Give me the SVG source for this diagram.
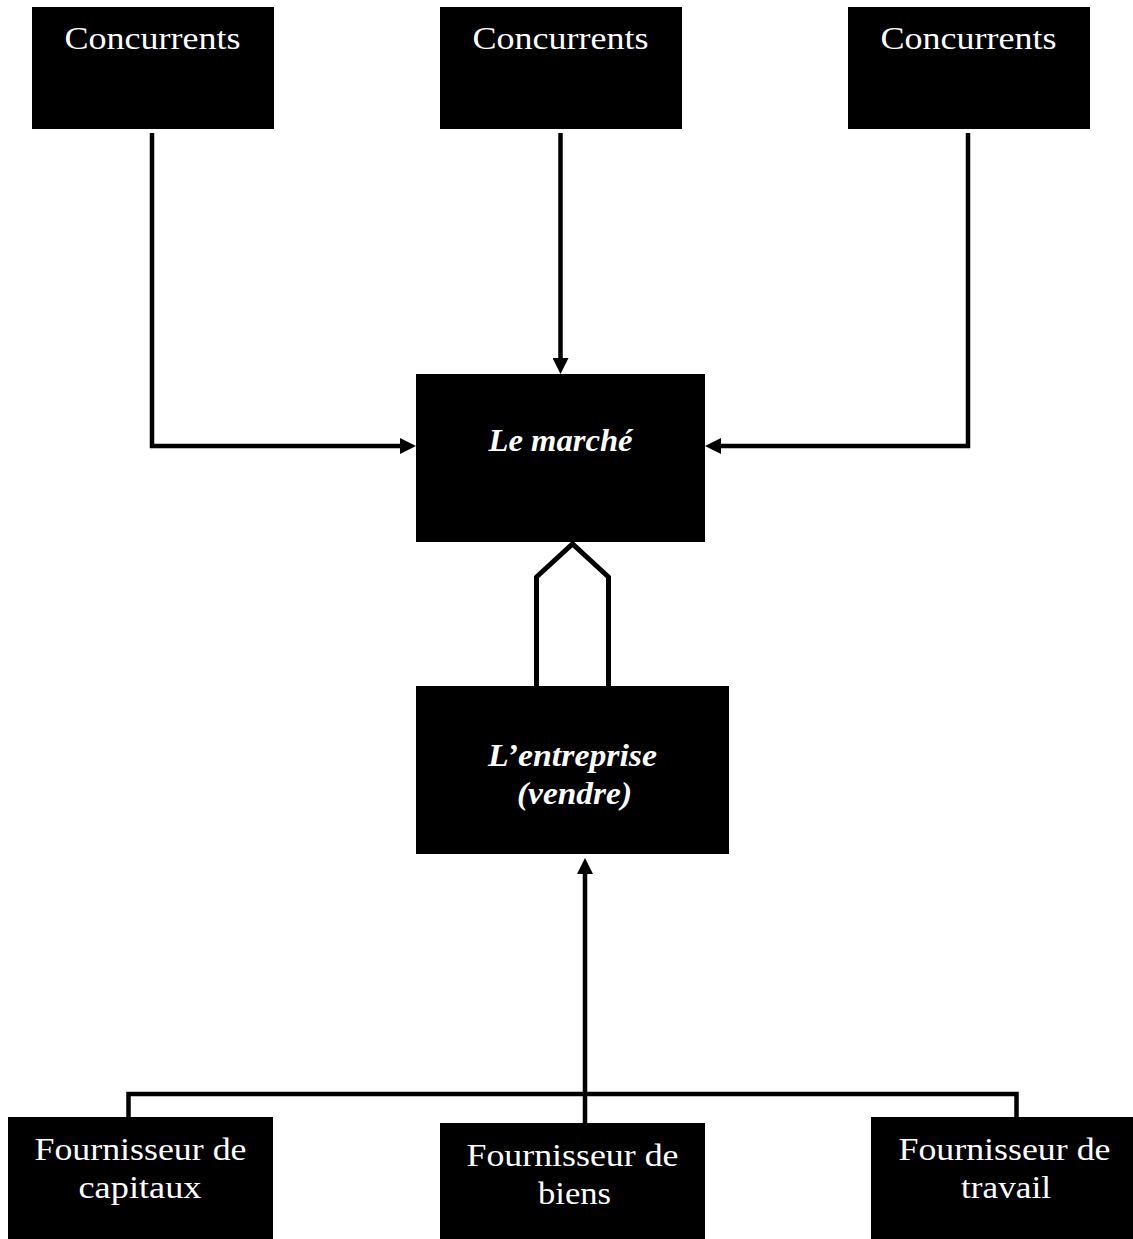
<svg xmlns="http://www.w3.org/2000/svg" width="1133" height="1239" viewBox="0 0 1133 1239">
  <style>
    .box { fill: #000; }
    .lbl { fill: #fff; font-family: "Liberation Serif", "Times New Roman", serif; font-size: 32px; text-anchor: middle; }
    .em { font-weight: bold; font-style: italic; font-size: 32px; }
    .con { fill: none; stroke: #000; stroke-width: 4.5; stroke-linejoin: miter; }
  </style>
  <defs>
    <marker id="ah" markerUnits="userSpaceOnUse" markerWidth="16" markerHeight="16" refX="0" refY="8" orient="auto" viewBox="0 0 16 16">
      <path d="M0,0 L16,8 L0,16 z" fill="#000"/>
    </marker>
  </defs>
  <rect width="1133" height="1239" fill="#fff"/>

  <g id="connectors">
    <path class="con" d="M152,133 V446 H400" marker-end="url(#ah)"/>
    <path class="con" d="M560.5,133 V358" marker-end="url(#ah)"/>
    <path class="con" d="M968,133 V446 H721" marker-end="url(#ah)"/>
    <path id="block-arrow" d="M536.5,688 V577 L572.5,544 L608.5,577 V688" fill="#fff" stroke="#000" stroke-width="5"/>
    <path class="con" d="M585,1123 V874" marker-end="url(#ah)"/>
    <path class="con" d="M128.5,1118 V1094 H1016.5 V1118"/>
  </g>

  <g id="concurrents-1">
    <rect class="box" x="32" y="7" width="242" height="122"/>
    <text class="lbl" x="152.5" y="49" textLength="176" lengthAdjust="spacingAndGlyphs">Concurrents</text>
  </g>
  <g id="concurrents-2">
    <rect class="box" x="440" y="7" width="242" height="122"/>
    <text class="lbl" x="560.5" y="49" textLength="176" lengthAdjust="spacingAndGlyphs">Concurrents</text>
  </g>
  <g id="concurrents-3">
    <rect class="box" x="848" y="7" width="242" height="122"/>
    <text class="lbl" x="968.5" y="49" textLength="176" lengthAdjust="spacingAndGlyphs">Concurrents</text>
  </g>

  <g id="marche">
    <rect class="box" x="416" y="374" width="289" height="168"/>
    <text class="lbl em" x="560.5" y="451" textLength="144" lengthAdjust="spacingAndGlyphs">Le marché</text>
  </g>

  <g id="entreprise">
    <rect class="box" x="416" y="686" width="313" height="168"/>
    <text class="lbl em" x="572.5" y="766" textLength="169" lengthAdjust="spacingAndGlyphs">L’entreprise</text>
    <text class="lbl em" x="574.5" y="804" textLength="115" lengthAdjust="spacingAndGlyphs">(vendre)</text>
  </g>

  <g id="fournisseur-capitaux">
    <rect class="box" x="8" y="1117" width="265" height="122"/>
    <text class="lbl" x="140.5" y="1160" textLength="212" lengthAdjust="spacingAndGlyphs">Fournisseur de</text>
    <text class="lbl" x="140" y="1198" textLength="123" lengthAdjust="spacingAndGlyphs">capitaux</text>
  </g>
  <g id="fournisseur-biens">
    <rect class="box" x="440" y="1123" width="265" height="116"/>
    <text class="lbl" x="572.5" y="1166" textLength="212" lengthAdjust="spacingAndGlyphs">Fournisseur de</text>
    <text class="lbl" x="574.5" y="1204" textLength="73" lengthAdjust="spacingAndGlyphs">biens</text>
  </g>
  <g id="fournisseur-travail">
    <rect class="box" x="871" y="1117" width="262" height="122"/>
    <text class="lbl" x="1004.5" y="1160" textLength="212" lengthAdjust="spacingAndGlyphs">Fournisseur de</text>
    <text class="lbl" x="1006" y="1198" textLength="90" lengthAdjust="spacingAndGlyphs">travail</text>
  </g>
</svg>
